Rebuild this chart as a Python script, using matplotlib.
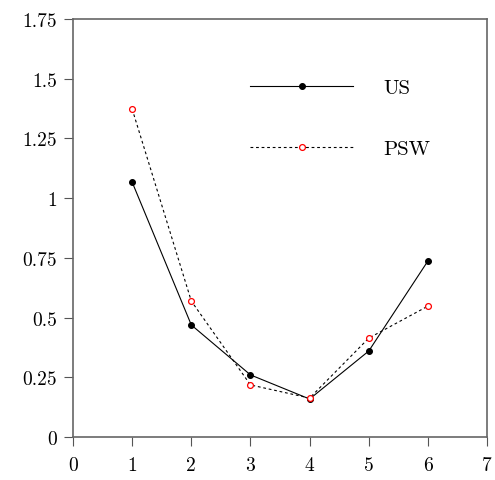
import matplotlib
matplotlib.use("Agg")
import matplotlib.pyplot as plt

x = [1, 2, 3, 4, 5, 6]
us = [1.067, 0.469, 0.26, 0.159, 0.36, 0.737]
psw = [1.373, 0.569, 0.218, 0.163, 0.414, 0.548]

xticks = [0, 1, 2, 3, 4, 5, 6, 7]
yticks = [0, 0.25, 0.5, 0.75, 1, 1.25, 1.5, 1.75]
ytick_labels = ["0", "0.25", "0.5", "0.75", "1", "1.25", "1.5", "1.75"]

plt.rcParams["font.family"] = "serif"
plt.rcParams["font.serif"] = ["cmr10", "DejaVu Serif"]
plt.rcParams["mathtext.fontset"] = "cm"
plt.rcParams["axes.unicode_minus"] = False

fig = plt.figure(figsize=(4.95, 4.81), dpi=100)
ax = fig.add_axes([0.1475, 0.0894, 0.8365, 0.869])

ax.plot(x, us, "-", color="black", lw=0.8, marker="o", ms=4.2,
        mfc="black", mec="black", mew=0.8, label="US")
ax.plot(x, psw, color="black", lw=0.8, ls=(0, (2.5, 2.5)), marker="o", ms=4.2,
        mfc="white", mec="red", mew=0.9, label="PSW")

ax.set_xlim(0, 7)
ax.set_ylim(0, 1.75)
ax.set_xticks(xticks)
ax.set_xticklabels([str(t) for t in xticks])
ax.set_yticks(yticks)
ax.set_yticklabels(ytick_labels)
ax.tick_params(direction="out", length=6.5, width=0.8, color="#555555",
               labelsize=14)
ax.tick_params(axis="x", pad=7)
ax.tick_params(axis="y", pad=5)

for s in ax.spines.values():
    s.set_color("#666666")
    s.set_linewidth(1.2)

ax.legend(loc="upper left", bbox_to_anchor=(0.428, 0.858), frameon=False,
          fontsize=15, handlelength=4.95, handletextpad=1.44, labelspacing=2.05,
          borderpad=0, borderaxespad=0, markerscale=1.0)

fig.savefig("out.png", dpi=100)
